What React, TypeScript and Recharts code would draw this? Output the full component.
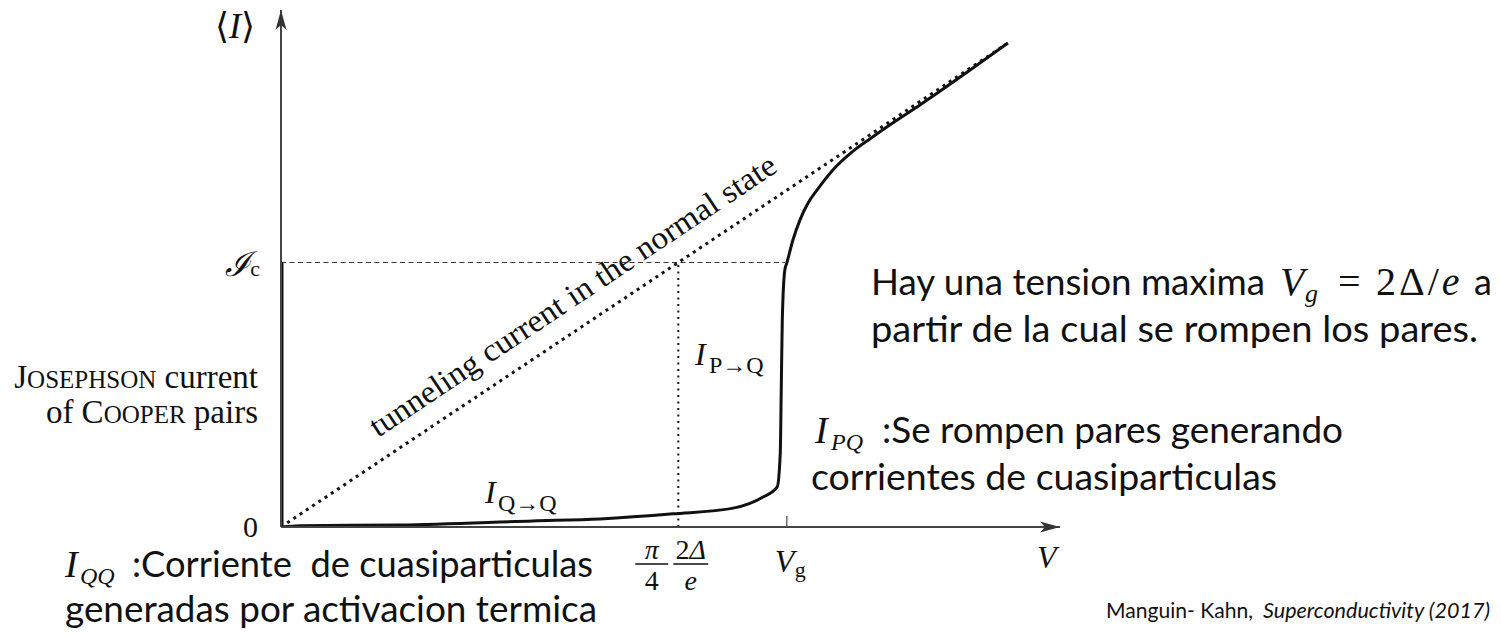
import { LineChart, Line, XAxis, YAxis } from 'recharts'

// Currents in units of the normal-state current at V_g, voltages in units of V_g = 2Δ/e
const IC = Math.PI / 4
const V_AB = Math.PI / 4 // (π/4)·2Δ/e
const V_GAP = 1

// quasiparticle branch of the I–V curve
const qpV = [0, 0.038, 0.235, 0.498, 0.631, 0.775, 0.894, 0.953, 0.981, 0.987, 0.989, 0.991, 0.996, 1.0, 1.012, 1.026, 1.042, 1.06, 1.091, 1.131, 1.164, 1.204, 1.263, 1.437]
const qpI = [0, 0.004, 0.006, 0.018, 0.024, 0.039, 0.056, 0.089, 0.119, 0.22, 0.416, 0.615, 0.763, 0.784, 0.852, 0.912, 0.962, 1.001, 1.06, 1.116, 1.152, 1.194, 1.253, 1.437]

// ohmic line of the normal state
const normalV = [0, 1.437]
const normalI = [0, 1.437]

// Josephson (zero-voltage) branch
const jjV = [0, 0]
const jjI = [0, IC]

// guide lines
const icLineV = [0, 0.996]
const abLineI = [0, V_AB]

const xTicks = [V_AB, V_GAP]
const yTicks = [0, IC]

const zip = (vs: number[], is: number[]) => vs.map((v, k) => ({ V: v, I: is[k] }))

const quasi = zip(qpV, qpI)
const normal = zip(normalV, normalI)
const josephson = zip(jjV, jjI)
const icGuide = zip(icLineV, [IC, IC])
const abGuide = zip([V_AB, V_AB], abLineI)

const serif = '"Liberation Serif", "DejaVu Serif", serif'
const sans = 'Lato, "Open Sans", sans-serif'
const ink = '#111'

// eslint-disable-next-line @typescript-eslint/no-explicit-any
function XTick({ x, y, payload }: any) {
  if (Math.abs(payload.value - V_GAP) < 1e-6) {
    return (
      <g fill={ink} fontFamily={serif}>
        <line x1={x} y1={y} x2={x} y2={y - 11} stroke="#444" strokeWidth={1.2} />
        <text x={x - 12} y={y + 45} fontSize={32} fontStyle="italic">V</text>
        <text x={x + 8} y={y + 50} fontSize={22}>g</text>
      </g>
    )
  }
  // stacked fractions (π/4)(2Δ/e)
  const a = x - 26.5
  const b = x + 12.5
  return (
    <g fill={ink} fontFamily={serif} fontSize={28} textAnchor="middle">
      <text x={a} y={y + 32} fontStyle="italic">π</text>
      <line x1={a - 16.5} x2={a + 16.5} y1={y + 37} y2={y + 37} stroke={ink} strokeWidth={1.4} />
      <text x={a} y={y + 63}>4</text>
      <text x={b} y={y + 32}>2<tspan fontStyle="italic">Δ</tspan></text>
      <line x1={b - 17.5} x2={b + 17.5} y1={y + 37} y2={y + 37} stroke={ink} strokeWidth={1.4} />
      <text x={b} y={y + 63} fontStyle="italic">e</text>
    </g>
  )
}

// eslint-disable-next-line @typescript-eslint/no-explicit-any
function YTick({ x, y, payload }: any) {
  if (payload.value === 0) {
    return (
      <text x={x - 23} y={y + 10} textAnchor="end" fontFamily={serif} fontSize={30} fill={ink}>0</text>
    )
  }
  return (
    <text x={x - 21} y={y + 14} textAnchor="end" fontFamily={serif} fill={ink}>
      <tspan fontSize={34} fontStyle="italic">ℐ</tspan>
      <tspan fontSize={22}>c</tspan>
    </text>
  )
}

function Notes() {
  return (
    <g fill={ink}>
      {/* axis names */}
      <text x={215} y={38} fontFamily={serif} fontSize={36}>
        ⟨<tspan fontStyle="italic">I</tspan>⟩
      </text>
      <text x={1037} y={568} fontFamily={serif} fontSize={32} fontStyle="italic">V</text>

      {/* serif labels of the branches */}
      <g fontFamily={serif} textAnchor="end">
        <text x={258} y={388} fontSize={33}>
          J<tspan fontSize={25}>OSEPHSON</tspan> current
        </text>
        <text x={258} y={423} fontSize={33}>
          of C<tspan fontSize={25}>OOPER</tspan> pairs
        </text>
      </g>
      <text
        transform="translate(378,438) rotate(-33.7)"
        fontFamily={serif}
        fontSize={32}
        textLength={482}
        lengthAdjust="spacingAndGlyphs"
      >
        tunneling current in the normal state
      </text>
      <text x={485} y={503} fontFamily={serif} fontSize={32} fontStyle="italic">I</text>
      <text x={498} y={511} fontFamily={serif} fontSize={24}>Q→Q</text>
      <text x={695} y={365} fontFamily={serif} fontSize={32} fontStyle="italic">I</text>
      <text x={709} y={373} fontFamily={serif} fontSize={24}>P→Q</text>

      {/* Spanish notes */}
      <g fontFamily={sans} fontSize={36}>
        <text x={871} y={295} textLength={394} lengthAdjust="spacingAndGlyphs">Hay una tension maxima</text>
        <text x={1474} y={295}>a</text>
        <text x={871} y={342} textLength={607} lengthAdjust="spacingAndGlyphs">partir de la cual se rompen los pares.</text>
        <text x={882} y={443} textLength={461} lengthAdjust="spacingAndGlyphs">:Se rompen pares generando</text>
        <text x={811} y={490} textLength={466} lengthAdjust="spacingAndGlyphs">corrientes de cuasiparticulas</text>
        <text x={132} y={577} textLength={461} lengthAdjust="spacingAndGlyphs" style={{ whiteSpace: 'pre' }}>:Corriente  de cuasiparticulas</text>
        <text x={65} y={622} textLength={532} lengthAdjust="spacingAndGlyphs">generadas por activacion termica</text>
      </g>
      <g fontFamily={sans} fontSize={22}>
        <text x={1106} y={618} textLength={147} lengthAdjust="spacingAndGlyphs">Manguin- Kahn,</text>
        <text x={1263} y={618} fontStyle="italic" textLength={227} lengthAdjust="spacingAndGlyphs">Superconductivity (2017)</text>
      </g>

      {/* math inside the notes */}
      <g fontFamily={serif}>
        <text x={1280} y={295} fontSize={40} fontStyle="italic">V</text>
        <text x={1305} y={302} fontSize={26} fontStyle="italic">g</text>
        <text x={1338} y={295} fontSize={40}>=</text>
        <text x={1376} y={295} fontSize={40} letterSpacing={3}>
          2Δ/<tspan fontStyle="italic">e</tspan>
        </text>
        <text x={815} y={443} fontSize={38} fontStyle="italic">I</text>
        <text x={831} y={450} fontSize={24} fontStyle="italic">PQ</text>
        <text x={65} y={577} fontSize={38} fontStyle="italic">I</text>
        <text x={80} y={584} fontSize={24} fontStyle="italic">QQ</text>
      </g>
    </g>
  )
}

export default function App() {
  return (
    <div style={{ position: 'absolute', left: 0, top: 0, width: 1501, height: 636, background: '#fff' }}>
      <LineChart width={1501} height={636} margin={{ top: 10, right: 441, bottom: 108, left: 280 }}>
        <defs>
          <marker
            id="axisArrow"
            markerUnits="userSpaceOnUse"
            markerWidth={22}
            markerHeight={14}
            refX={20}
            refY={7}
            orient="auto-start-reverse"
          >
            <path d="M0,1.5 L20,7 L0,12.5 L5,7 Z" fill="#333" />
          </marker>
        </defs>
        <XAxis
          type="number"
          dataKey="V"
          domain={[0, 1.54]}
          allowDataOverflow
          ticks={xTicks}
          interval={0}
          tick={<XTick />}
          tickLine={false}
          tickSize={0}
          tickMargin={0}
          height={1}
          axisLine={{ stroke: '#444', strokeWidth: 2, markerEnd: 'url(#axisArrow)' }}
        />
        <YAxis
          type="number"
          dataKey="I"
          domain={[0, 1.535]}
          allowDataOverflow
          ticks={yTicks}
          interval={0}
          tick={<YTick />}
          tickLine={false}
          tickSize={0}
          tickMargin={0}
          width={1}
          axisLine={{ stroke: '#444', strokeWidth: 2, markerStart: 'url(#axisArrow)' }}
        />
        <Line data={icGuide} dataKey="I" type="linear" stroke="#333" strokeWidth={1} strokeDasharray="5 3.5" dot={false} activeDot={false} isAnimationActive={false} />
        <Line data={abGuide} dataKey="I" type="linear" stroke={ink} strokeWidth={2} strokeDasharray="2 4.5" dot={false} activeDot={false} isAnimationActive={false} />
        <Line data={quasi} dataKey="I" type="monotone" stroke={ink} strokeWidth={3} dot={false} activeDot={false} isAnimationActive={false} />
        <Line data={normal} dataKey="I" type="linear" stroke={ink} strokeWidth={3} strokeDasharray="3 4.5" dot={false} activeDot={false} isAnimationActive={false} />
        <Line data={josephson} dataKey="I" type="linear" stroke={ink} strokeWidth={5} dot={false} activeDot={false} isAnimationActive={false} />
        <Notes />
      </LineChart>
    </div>
  )
}
